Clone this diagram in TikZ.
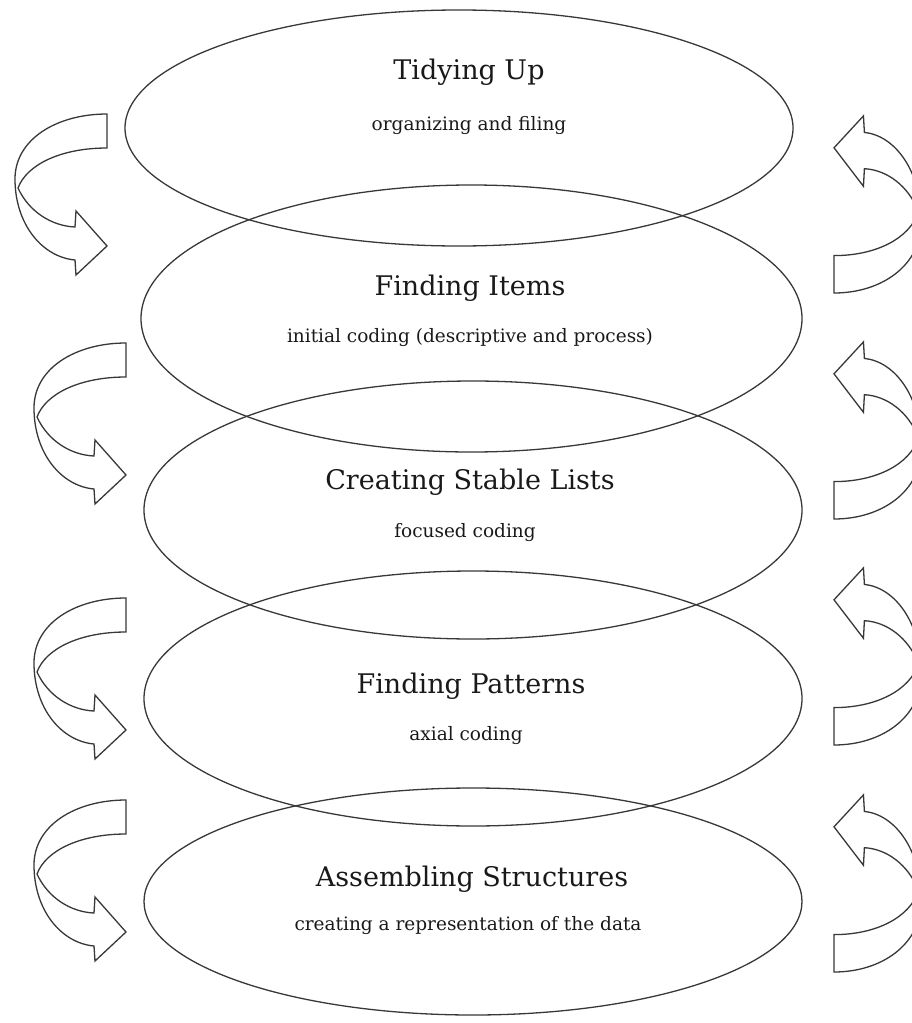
\documentclass[tikz,border=0pt]{standalone}
\usepackage{fontspec}
\setmainfont{DejaVu Serif}
\begin{document}
\begin{tikzpicture}[x=1pt,y=-1pt,
  ring/.style={draw=black!78, line width=1.3pt},
  band/.style={draw=black!78, line width=1.3pt, fill=white, line join=miter},
  stage/.style={font=\fontsize{27}{30}\selectfont, text=black!90},
  method/.style={font=\fontsize{18.5}{21}\selectfont, text=black!90},
  lbend/.pic={
    \draw[band] (0,0) .. controls (-50,0) and (-92,25) .. (-92,65)
      .. controls (-92,110) and (-65,143) .. (-32,146)
      -- (-31,161) -- (0,132) -- (-31,97) -- (-32,113)
      .. controls (-55,112) and (-78,98) .. (-89,74)
      .. controls (-80,50) and (-45,34) .. (0,34) -- cycle;
  }]
\useasboundingbox (0,0) rectangle (912,1023);

% stage rings
\draw[ring] (459,128) ellipse [x radius=334pt, y radius=118pt];
\draw[ring] (471.5,318.5) ellipse [x radius=330.5pt, y radius=133.5pt];
\draw[ring] (473,510) ellipse [x radius=329pt, y radius=129pt];
\draw[ring] (473,698.5) ellipse [x radius=329pt, y radius=127.5pt];
\draw[ring] (473,901.5) ellipse [x radius=329pt, y radius=113.5pt];

% stage labels
\node[stage]  (t1) at (469,72)  {Tidying Up};
\node[method] (m1) at (469,126) {organizing and filing};
\node[stage]  (t2) at (470,288) {Finding Items};
\node[method] (m2) at (470,338) {initial coding (descriptive and process)};
\node[stage]  (t3) at (470,482) {Creating Stable Lists};
\node[method] (m3) at (465,533) {focused coding};
\node[stage]  (t4) at (471,686) {Finding Patterns};
\node[method] (m4) at (466,736) {axial coding};
\node[stage]  (t5) at (472,879) {Assembling Structures};
\node[method] (m5) at (468,926) {creating a representation of the data};

% downward bends on the left
\pic (L1) at (107,114) {lbend};
\pic (L2) at (126,343) {lbend};
\pic (L3) at (126,598) {lbend};
\pic (L4) at (126,800) {lbend};

% upward bends on the right
\pic[xscale=-0.95, yscale=-1.1] (R1) at (834,293) {lbend};
\pic[xscale=-0.95, yscale=-1.1] (R2) at (834,519) {lbend};
\pic[xscale=-0.95, yscale=-1.1] (R3) at (834,745) {lbend};
\pic[xscale=-0.95, yscale=-1.1] (R4) at (834,972) {lbend};
\end{tikzpicture}
\end{document}
